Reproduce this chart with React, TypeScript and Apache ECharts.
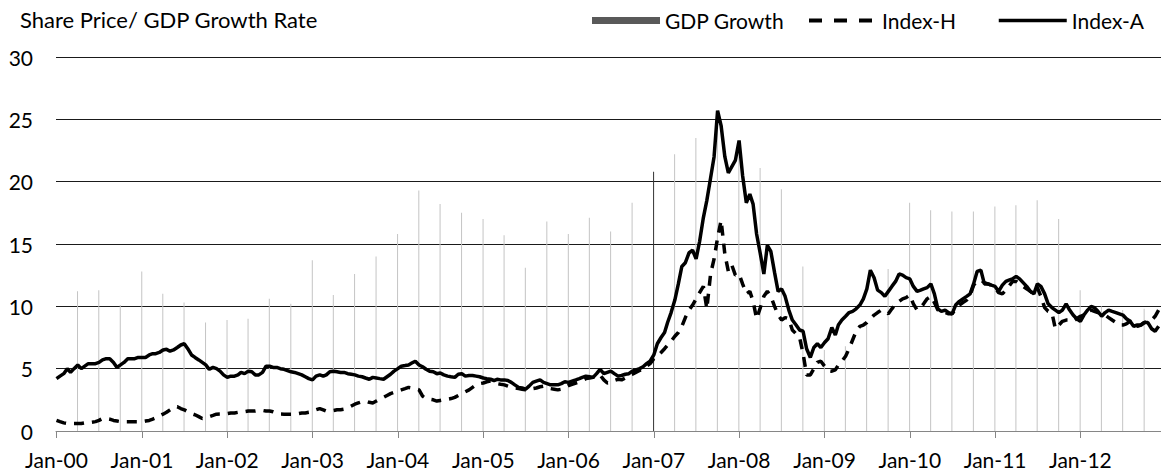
import React, { useEffect, useRef } from "react";
import * as echarts from "echarts";

const FONT = "Lato, 'Open Sans', sans-serif";

const titleText = "Share Price/ GDP Growth Rate";
const legendNames = ["GDP Growth", "Index-H", "Index-A"];

// Quarterly GDP growth (%), quarter ends Mar-2000 .. Sep-2012
const gdpGrowth: number[] = [
  11.2, 11.3, 10.1, 12.8,
  11.0, 10.3, 8.7, 8.9,
  9.0, 10.6, 10.2, 13.7,
  10.9, 12.6, 14.0, 15.8,
  19.3, 18.2, 17.5, 17.0,
  15.7, 13.1, 16.8, 15.8,
  17.1, 16.0, 18.3, 20.8,
  22.2, 23.5, 24.5, 22.5,
  21.1, 19.4, 13.2, 6.5,
  6.8, 8.5, 13.0, 18.3,
  17.7, 17.6, 17.6, 18.0,
  18.1, 18.5, 17.0, 11.3,
  10.0, 9.7, 9.8,
];

// Index-A, twice a month (1st and 16th), Jan-2000 .. Dec-2012
const indexA: number[] = [
  // 2000
  4.2, 4.4, 4.6, 5.0, 4.7, 5.0, 5.3, 5.0, 5.2, 5.4, 5.4, 5.4, 5.5, 5.7, 5.8, 5.8, 5.5, 5.1, 5.3, 5.5, 5.8, 5.8, 5.8, 5.9,
  // 2001
  5.9, 5.9, 6.1, 6.2, 6.2, 6.3, 6.5, 6.55, 6.4, 6.5, 6.7, 6.9, 7.0, 6.6, 6.1, 5.9, 5.7, 5.5, 5.3, 4.95, 5.1, 5.0, 4.8, 4.5,
  // 2002
  4.3, 4.4, 4.4, 4.5, 4.7, 4.6, 4.8, 4.75, 4.5, 4.5, 4.7, 5.2, 5.2, 5.1, 5.1, 5.0, 4.95, 4.85, 4.75, 4.7, 4.6, 4.5, 4.35, 4.2,
  // 2003
  4.1, 4.4, 4.5, 4.4, 4.5, 4.75, 4.8, 4.75, 4.7, 4.7, 4.6, 4.55, 4.5, 4.4, 4.35, 4.25, 4.15, 4.3, 4.25, 4.2, 4.15, 4.35, 4.55, 4.8,
  // 2004
  5.0, 5.2, 5.25, 5.3, 5.45, 5.6, 5.3, 5.15, 4.95, 4.8, 4.75, 4.6, 4.65, 4.5, 4.4, 4.35, 4.3, 4.55, 4.6, 4.4, 4.45, 4.45, 4.4, 4.35,
  // 2005
  4.25, 4.2, 4.15, 4.05, 4.15, 4.1, 4.1, 4.05, 3.9, 3.7, 3.5, 3.45, 3.35, 3.6, 3.9, 4.0, 4.1, 3.9, 3.8, 3.7, 3.7, 3.7, 3.8, 3.95,
  // 2006
  3.9, 4.0, 4.1, 4.2, 4.3, 4.4, 4.35, 4.3, 4.6, 4.95, 4.6, 4.7, 4.8, 4.6, 4.4, 4.45, 4.55, 4.6, 4.8, 4.9, 5.0, 5.15, 5.4, 5.6,
  // 2007
  6.1, 7.0, 7.5, 7.9, 8.7, 9.5, 10.5, 11.8, 13.2, 13.5, 14.3, 14.5, 13.8, 15.2, 17.1, 18.5, 20.3, 22.0, 25.7, 24.5, 22.0, 20.7, 21.2, 21.7,
  // 2008
  23.3, 20.5, 18.3, 19.0, 18.2, 15.8, 14.2, 12.6, 14.9, 14.4, 12.7, 11.2, 11.4, 10.8, 9.7, 8.9, 8.5, 8.1, 8.0, 6.6, 5.9, 6.7, 7.0, 6.7,
  // 2009
  7.1, 7.4, 8.3, 7.7, 8.5, 8.9, 9.2, 9.5, 9.6, 9.8, 10.1, 10.6, 11.4, 12.9, 12.3, 11.3, 11.1, 10.8, 11.2, 11.6, 12.0, 12.6, 12.5, 12.3,
  // 2010
  12.2, 11.6, 11.2, 11.3, 11.4, 11.5, 11.8, 11.0, 9.8, 9.6, 9.7, 9.5, 9.4, 10.1, 10.4, 10.6, 10.8, 11.0, 11.8, 12.8, 12.9, 11.8, 11.8, 11.7,
  // 2011
  11.6, 11.2, 11.7, 12.0, 12.1, 12.2, 12.4, 12.2, 11.9, 11.6, 11.2, 11.0, 11.8, 11.6, 11.0, 10.2, 9.9, 9.7, 9.5, 9.7, 10.2, 9.7, 9.3, 9.0,
  // 2012
  8.8, 9.3, 9.7, 10.0, 9.9, 9.6, 9.2, 9.5, 9.7, 9.6, 9.5, 9.4, 9.3, 9.0, 8.8, 8.4, 8.5, 8.5, 8.7, 8.7, 8.2, 8.0, 8.4,
];

// Index-H, same dates
const indexH: number[] = [
  // 2000
  0.85, 0.75, 0.65, 0.6, 0.6, 0.6, 0.6, 0.6, 0.65, 0.65, 0.7, 0.75, 0.85, 1.0, 1.0, 0.95, 0.85, 0.8, 0.75, 0.75, 0.75, 0.75, 0.75, 0.75,
  // 2001
  0.75, 0.8, 0.85, 0.95, 1.05, 1.2, 1.35, 1.5, 1.7, 1.9, 1.95, 1.8, 1.7, 1.55, 1.4, 1.3, 1.15, 1.0, 1.05, 1.15, 1.25, 1.35, 1.36, 1.4,
  // 2002
  1.4, 1.45, 1.45, 1.5, 1.55, 1.55, 1.6, 1.6, 1.6, 1.65, 1.65, 1.6, 1.6, 1.55, 1.45, 1.36, 1.35, 1.35, 1.35, 1.35, 1.4, 1.45, 1.45, 1.5,
  // 2003
  1.55, 1.7, 1.8, 1.7, 1.6, 1.6, 1.65, 1.7, 1.7, 1.75, 1.85, 2.0, 2.15, 2.25, 2.35, 2.4, 2.3, 2.25, 2.4, 2.55, 2.7, 2.85, 3.0, 3.1,
  // 2004
  3.2, 3.3, 3.4, 3.5, 3.45, 3.4, 3.3, 2.8, 2.6, 2.55, 2.5, 2.4, 2.45, 2.5, 2.55, 2.6, 2.7, 2.85, 3.0, 3.15, 3.3, 3.5, 3.7, 3.8,
  // 2005
  3.85, 3.95, 4.0, 3.9, 3.8, 3.75, 3.7, 3.6, 3.5, 3.45, 3.4, 3.35, 3.3, 3.35, 3.4, 3.45, 3.55, 3.6, 3.5, 3.4, 3.35, 3.3, 3.35, 3.5,
  // 2006
  3.65, 3.75, 3.85, 3.95, 4.05, 4.2, 4.25, 4.3, 4.35, 4.5, 4.1, 3.85, 3.9, 4.05, 4.15, 4.1, 4.25, 4.45, 4.55, 4.7, 4.85, 5.05, 5.2, 5.4,
  // 2007
  5.8, 6.0, 6.3, 6.6, 6.9, 7.2, 7.6, 7.9, 8.4, 9.1, 9.7, 10.1, 10.6, 11.1, 11.6, 9.8, 12.6, 13.8, 15.5, 16.9, 14.2, 12.8, 13.3, 12.5,
  // 2008
  12.6, 11.8, 11.0, 11.2, 10.4, 9.0, 9.9, 10.8, 11.2, 10.8, 10.0, 9.3, 8.9, 9.1, 9.0, 8.1, 7.8, 7.5, 6.2, 4.5, 4.5, 5.0, 5.5, 5.6,
  // 2009
  5.2, 4.85, 4.8, 4.9, 5.3, 5.6, 6.0, 6.6, 7.3, 8.0, 8.4, 8.5, 8.7, 9.0, 9.3, 9.5, 9.7, 9.6, 9.4, 9.8, 10.2, 10.4, 10.6, 10.7,
  // 2010
  10.9, 10.2, 9.7, 9.9, 10.2, 10.6, 10.8, 10.3, 9.7, 9.6, 9.5, 9.4, 9.4, 9.8, 10.1, 10.3, 10.5, 10.9, 11.7, 12.0, 12.1, 11.9, 11.8, 11.7,
  // 2011
  11.5, 11.1, 11.0, 11.3, 11.6, 12.0, 12.0, 11.8, 11.6, 11.4, 11.2, 11.0, 11.5, 10.8, 9.9, 9.6, 9.5, 8.2, 8.5, 8.8, 8.9, 8.9, 8.8, 9.0,
  // 2012
  9.2, 9.3, 9.6, 9.7, 9.6, 9.5, 9.4, 9.3, 9.1, 8.9, 8.7, 8.5, 8.5, 8.6, 8.8, 8.6, 8.4, 8.5, 8.7, 8.8, 8.9, 9.2, 9.7,
];

const pad = (n: number) => (n < 10 ? "0" + n : String(n));

function halfMonthDates(count: number): string[] {
  const out: string[] = [];
  for (let y = 2000; out.length < count; y++) {
    for (let m = 1; m <= 12 && out.length < count; m++) {
      out.push(`${y}-${pad(m)}-01`);
      if (out.length < count) out.push(`${y}-${pad(m)}-16`);
    }
  }
  return out;
}

function quarterEndDates(count: number): string[] {
  const ends = ["03-31", "06-30", "09-30", "12-31"];
  const out: string[] = [];
  for (let y = 2000; out.length < count; y++) {
    for (let q = 0; q < 4 && out.length < count; q++) out.push(`${y}-${ends[q]}`);
  }
  return out;
}

const legendBase = {
  top: 10,
  padding: 0,
  itemWidth: 68,
  itemHeight: 7,
  textStyle: { fontFamily: FONT, fontSize: 21, color: "#000" },
};

export default function App() {
  const ref = useRef<HTMLDivElement>(null);
  useEffect(() => {
    if (!ref.current) return;
    const chart = echarts.init(ref.current, null, { renderer: "svg" });
    const lineDates = halfMonthDates(indexA.length);
    const gdpDates = quarterEndDates(gdpGrowth.length);
    const year = 365.25 * 24 * 3600 * 1000;
    const hiddenSymbol = { color: "rgba(0,0,0,0)", opacity: 0, borderWidth: 0 };
    chart.setOption({
      animation: false,
      textStyle: { fontFamily: FONT },
      title: {
        text: titleText,
        left: 20,
        top: 8,
        padding: 0,
        textStyle: { fontFamily: FONT, fontSize: 22, fontWeight: "normal", color: "#000" },
      },
      legend: [
        {
          ...legendBase,
          left: 592,
          data: [{ name: legendNames[0], icon: "rect", itemStyle: { color: "#595959" } }],
        },
        {
          ...legendBase,
          left: 807,
          data: [
            {
              name: legendNames[1],
              itemStyle: hiddenSymbol,
              lineStyle: { color: "#000", width: 4, type: [13, 12] },
            },
          ],
        },
        {
          ...legendBase,
          left: 997,
          data: [
            {
              name: legendNames[2],
              itemStyle: hiddenSymbol,
              lineStyle: { color: "#000", width: 3.5, type: "solid" },
            },
          ],
        },
      ],
      grid: { left: 56, right: 0, top: 57, bottom: 44, containLabel: false },
      xAxis: {
        type: "time",
        min: "2000-01-01",
        max: "2012-12-09",
        minInterval: year * 0.99,
        maxInterval: year * 1.01,
        splitNumber: 13,
        axisLine: { show: true, lineStyle: { color: "#868686", width: 1 } },
        axisTick: { show: true, length: 7, lineStyle: { color: "#868686", width: 1 } },
        splitLine: { show: false },
        axisLabel: {
          fontFamily: FONT,
          fontSize: 21,
          color: "#000",
          margin: 18,
          hideOverlap: false,
          formatter: (v: number) => "Jan-" + String(new Date(v).getFullYear()).slice(2),
        },
      },
      yAxis: {
        type: "value",
        min: 0,
        max: 30,
        interval: 5,
        axisLine: { show: false },
        axisTick: { show: false },
        splitLine: { show: true, lineStyle: { color: "#1a1a1a", width: 1 } },
        axisLabel: { fontFamily: FONT, fontSize: 21, color: "#000", margin: 23 },
      },
      series: [
        {
          name: legendNames[0],
          type: "bar",
          barWidth: 1,
          itemStyle: { color: "#c4c4c4" },
          data: gdpDates.map((d, i) =>
            d === "2006-12-31"
              ? { value: [d, gdpGrowth[i]], itemStyle: { color: "#333" } }
              : { value: [d, gdpGrowth[i]] }
          ),
        },
        {
          name: legendNames[1],
          type: "line",
          symbol: "none",
          showSymbol: false,
          itemStyle: { color: "#000" },
          lineStyle: { color: "#000", width: 3.5, type: [10, 8] },
          data: lineDates.map((d, i) => [d, indexH[i]]),
        },
        {
          name: legendNames[2],
          type: "line",
          symbol: "none",
          showSymbol: false,
          itemStyle: { color: "#000" },
          lineStyle: { color: "#000", width: 3.5 },
          data: lineDates.map((d, i) => [d, indexA[i]]),
        },
      ],
    });
    return () => chart.dispose();
  }, []);
  return (
    <div
      ref={ref}
      style={{ position: "absolute", left: 0, top: 0, width: 1161, height: 475 }}
    />
  );
}
